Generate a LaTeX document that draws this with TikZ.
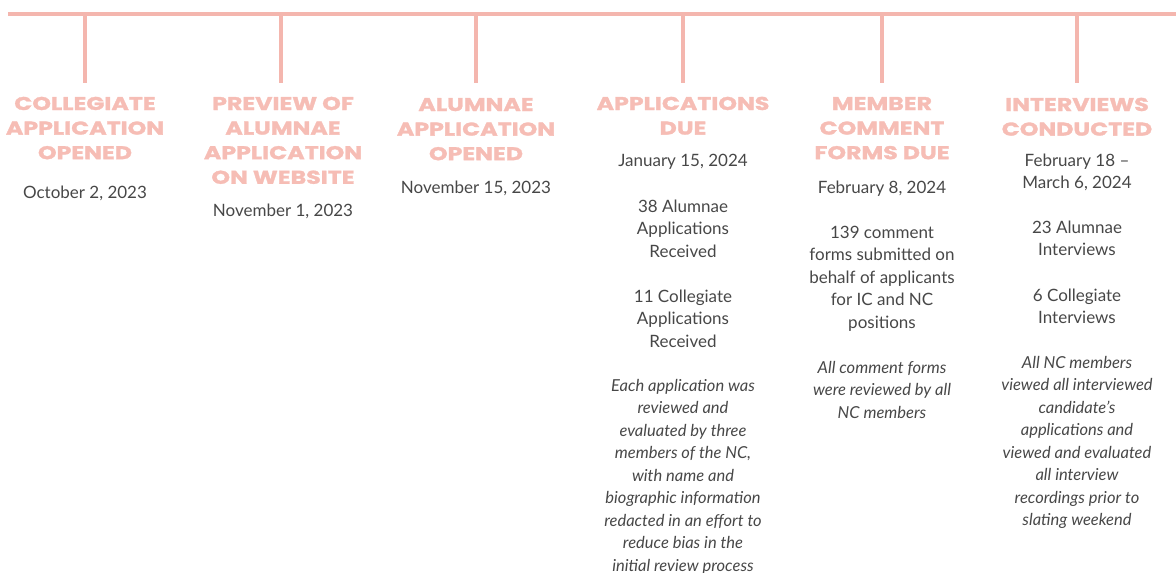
\documentclass[tikz,border=0pt]{standalone}
\usepackage{fontspec}
\setmainfont{Lato}
\newfontfamily\headfont{Poppins}[FakeBold=1.6, FakeStretch=1.28]
\definecolor{tlpink}{HTML}{F4B6AE}
\definecolor{hpink}{HTML}{F6BDB5}
\definecolor{bodygray}{HTML}{474747}
\tikzset{
  tick/.style={draw=tlpink, line width=4pt},
  hdstyle/.style={anchor=base, inner sep=0pt, align=center, text=hpink,
    font=\headfont\bfseries\fontsize{18.5}{24.6}\selectfont},
  bodystyle/.style={anchor=base, inner sep=0pt, align=center, text=bodygray,
    font=\fontsize{17}{22.5}\selectfont},
  notestyle/.style={anchor=base, inner sep=0pt, align=center, text=bodygray,
    font=\itshape\fontsize{16.5}{22.5}\selectfont},
}
\begin{document}
\begin{tikzpicture}[x=1pt,y=-1pt]
\useasboundingbox (0,0) rectangle (1176,573);
% timeline
\coordinate (L) at (8,14);
\coordinate (R) at (1176,14);
\draw[tick] (L) -- (R);
\foreach \i/\x in {1/85,2/281,3/476,4/683,5/882,6/1077}{
  \coordinate (top\i) at (\x,14);
  \coordinate (bot\i) at (\x,83);
  \draw[tick] (top\i) -- (bot\i);
}
% (anchor=base of a multi-line node is the baseline of its last line)
% column 1
\node[hdstyle] (h1) at (85,159.2) {COLLEGIATE\\APPLICATION\\OPENED};
\node[bodystyle] (d1) at (85,198) {October 2, 2023};
% column 2
\node[hdstyle] (h2) at (283,183.8) {PREVIEW OF\\ALUMNAE\\APPLICATION\\ON WEBSITE};
\node[bodystyle] (d2) at (283,216) {November 1, 2023};
% column 3
\node[hdstyle] (h3) at (476,160.2) {ALUMNAE\\APPLICATION\\OPENED};
\node[bodystyle] (d3) at (476,193) {November 15, 2023};
% column 4
\node[hdstyle] (h4) at (683,134.6) {APPLICATIONS\\DUE};
\node[bodystyle] (d4) at (683,166) {January 15, 2024};
\node[bodystyle] (a4) at (683,257) {38 Alumnae\\Applications\\Received};
\node[bodystyle] (c4) at (683,347) {11 Collegiate\\Applications\\Received};
\node[notestyle] (n4) at (683,571) {Each application was\\reviewed and\\evaluated by three\\members of the NC,\\with name and\\biographic information\\redacted in an effort to\\reduce bias in the\\initial review process};
% column 5
\node[hdstyle] (h5) at (882,159.2) {MEMBER\\COMMENT\\FORMS DUE};
\node[bodystyle] (d5) at (882,193) {February 8, 2024};
\node[bodystyle] (a5) at (882,328) {139 comment\\forms submitted on\\behalf of applicants\\for IC and NC\\positions};
\node[notestyle] (n5) at (882,418) {All comment forms\\were reviewed by all\\NC members};
% column 6
\node[hdstyle] (h6) at (1077,135.6) {INTERVIEWS\\CONDUCTED};
\node[bodystyle] (d6) at (1077,188.5) {February 18 --\\March 6, 2024};
\node[bodystyle] (a6) at (1077,255.5) {23 Alumnae\\Interviews};
\node[bodystyle] (c6) at (1077,323.5) {6 Collegiate\\Interviews};
\node[notestyle] (n6) at (1077,525.5) {All NC members\\viewed all interviewed\\candidate's\\applications and\\viewed and evaluated\\all interview\\recordings prior to\\slating weekend};
\end{tikzpicture}
\end{document}
